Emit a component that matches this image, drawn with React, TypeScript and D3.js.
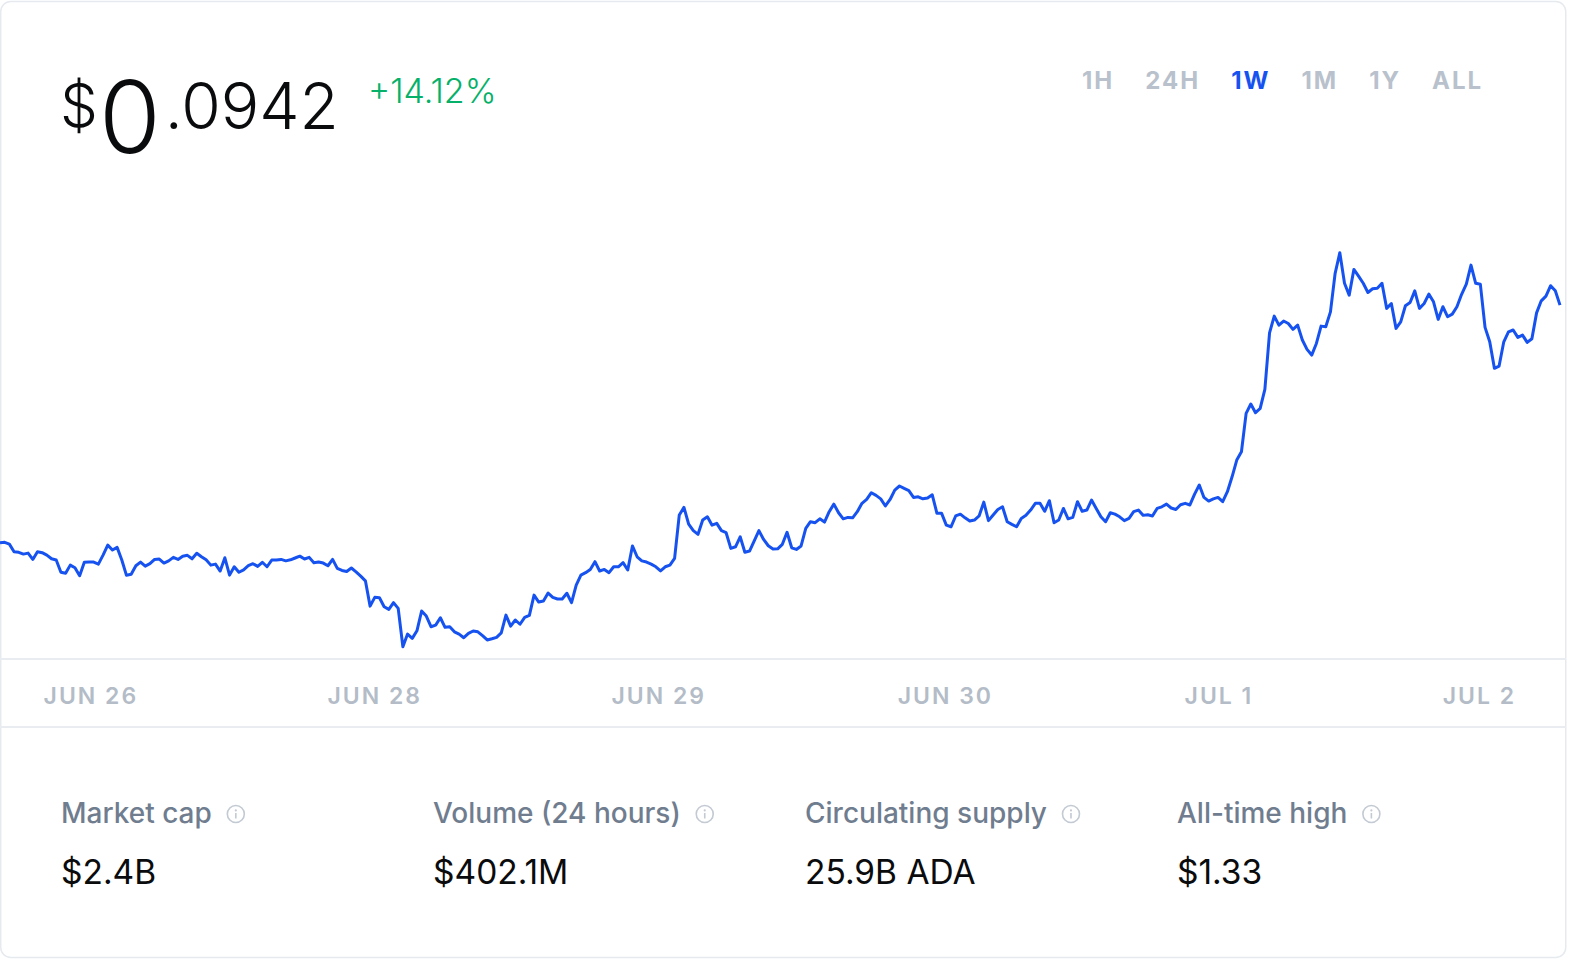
import * as React from "react";
import * as d3 from "d3";

// ADA price, one point every 30 minutes over the week (USD)
const prices = [
  0.08255, 0.08257, 0.08248, 0.08211, 0.08208, 0.08199, 0.08204, 0.08173, 0.08211, 0.08206,
  0.08194, 0.08176, 0.0817, 0.0811, 0.08105, 0.08145, 0.08132, 0.08093, 0.08159, 0.0816,
  0.0816, 0.0815, 0.08194, 0.08243, 0.08219, 0.08232, 0.0817, 0.08095, 0.081, 0.08142,
  0.0816, 0.0814, 0.08152, 0.08173, 0.08175, 0.08155, 0.08166, 0.08183, 0.08173, 0.08189,
  0.08193, 0.08176, 0.08203, 0.08186, 0.08171, 0.08145, 0.0815, 0.08116, 0.08181, 0.08096,
  0.08137, 0.0811, 0.08122, 0.08142, 0.08152, 0.08139, 0.08159, 0.08137, 0.0817, 0.0817,
  0.08173, 0.08166, 0.08171, 0.0818, 0.08189, 0.08175, 0.08183, 0.08157, 0.0816, 0.08155,
  0.08142, 0.08173, 0.08129, 0.08119, 0.08114, 0.08131, 0.08112, 0.08091, 0.08068, 0.07944,
  0.07987, 0.07985, 0.07941, 0.07928, 0.07961, 0.07933, 0.07745, 0.07807, 0.07786, 0.07823,
  0.0792, 0.07895, 0.07843, 0.07851, 0.07887, 0.0784, 0.07843, 0.07818, 0.07807, 0.07789,
  0.0781, 0.07822, 0.07818, 0.07799, 0.07778, 0.07784, 0.07791, 0.07813, 0.079, 0.07846,
  0.07876, 0.07855, 0.07889, 0.07899, 0.07998, 0.07964, 0.07969, 0.08008, 0.07987, 0.07979,
  0.07979, 0.08007, 0.07961, 0.08047, 0.08096, 0.08108, 0.08124, 0.08162, 0.08116, 0.08124,
  0.08108, 0.08137, 0.08137, 0.08157, 0.08121, 0.08239, 0.08186, 0.08166, 0.0816, 0.0815,
  0.08137, 0.08117, 0.08137, 0.08145, 0.08178, 0.08391, 0.08428, 0.08346, 0.08314, 0.08296,
  0.08366, 0.08382, 0.08341, 0.0835, 0.08314, 0.08304, 0.08227, 0.08235, 0.08284, 0.08208,
  0.08214, 0.08264, 0.08314, 0.08271, 0.0824, 0.08224, 0.08225, 0.08247, 0.08306, 0.0823,
  0.08222, 0.08239, 0.08325, 0.08358, 0.08353, 0.08372, 0.08356, 0.08407, 0.08444, 0.08402,
  0.08372, 0.08379, 0.08377, 0.08407, 0.08448, 0.08467, 0.085, 0.08487, 0.0847, 0.08435,
  0.08467, 0.08513, 0.08533, 0.08521, 0.0851, 0.08477, 0.0848, 0.0847, 0.08474, 0.0849,
  0.08399, 0.08399, 0.08341, 0.08333, 0.08386, 0.08395, 0.08377, 0.08361, 0.08366, 0.08386,
  0.08454, 0.08363, 0.08391, 0.08418, 0.08431, 0.08358, 0.08345, 0.08333, 0.08374, 0.08389,
  0.08415, 0.08448, 0.08448, 0.08409, 0.08461, 0.08353, 0.08366, 0.08423, 0.08372, 0.08379,
  0.08456, 0.08409, 0.08415, 0.08464, 0.08423, 0.08382, 0.08358, 0.08402, 0.08395, 0.08382,
  0.08363, 0.08374, 0.08407, 0.08415, 0.08389, 0.08392, 0.08386, 0.08423, 0.08431, 0.08444,
  0.08425, 0.08418, 0.08441, 0.08448, 0.0844, 0.08493, 0.08538, 0.08477, 0.08459, 0.0847,
  0.08477, 0.08456, 0.08505, 0.08578, 0.0866, 0.08701, 0.08889, 0.08935, 0.08892, 0.08914,
  0.09007, 0.09284, 0.09366, 0.09322, 0.09342, 0.0933, 0.09301, 0.09322, 0.09249, 0.09203,
  0.09175, 0.09232, 0.09317, 0.09314, 0.09387, 0.09576, 0.09677, 0.09527, 0.09469, 0.09595,
  0.09562, 0.09527, 0.09482, 0.095, 0.09503, 0.09527, 0.09404, 0.09428, 0.09306, 0.09338,
  0.09417, 0.09433, 0.0949, 0.09404, 0.09428, 0.09474, 0.09436, 0.0935, 0.09412, 0.09363,
  0.09376, 0.09412, 0.09473, 0.09523, 0.09616, 0.09527, 0.09522, 0.09311, 0.0924, 0.0911,
  0.09121, 0.0924, 0.09289, 0.09298, 0.09262, 0.09273, 0.09237, 0.09255, 0.09382, 0.09441,
  0.09464, 0.09515, 0.0949, 0.0942,
];
const stepHours = 0.5;

const dateLabels = ["JUN 26", "JUN 28", "JUN 29", "JUN 30", "JUL 1", "JUL 2"];
const dateLabelHours = [9.7, 40.0, 70.3, 100.9, 130.1, 157.9];

const ranges = ["1H", "24H", "1W", "1M", "1Y", "ALL"];
const activeRange = "1W";

const priceWhole = "0";
const priceFraction = ".0942";
const priceChange = "+14.12%";

const statLabels = ["Market cap", "Volume (24 hours)", "Circulating supply", "All-time high"];
const statValues = ["$2.4B", "$402.1M", "25.9B ADA", "$1.33"];

const W = 1578;
const H = 960;
const FONT = "Inter, 'Noto Sans', sans-serif";
const BLUE = "#1652f0";

const App = () => {
  const ref = React.useRef(null);

  React.useEffect(() => {
    const svg = d3.select(ref.current);
    svg.selectAll("*").remove();

    // card
    svg
      .append("rect")
      .attr("x", 0.75)
      .attr("y", 1.5)
      .attr("width", 1565)
      .attr("height", 956)
      .attr("rx", 10)
      .attr("fill", "#fff")
      .attr("stroke", "#e6eaef")
      .attr("stroke-width", 1.5);

    // line
    const data = prices.map((p, i) => ({ t: i * stepHours, p }));
    const x = d3
      .scaleLinear()
      .domain([0, (prices.length - 1) * stepHours])
      .range([0, 1560]);
    const y = d3
      .scaleLinear()
      .domain(d3.extent(prices) as [number, number])
      .range([646.7, 252.7]);
    const line = d3
      .line<{ t: number; p: number }>()
      .x(d => x(d.t))
      .y(d => y(d.p));

    svg
      .append("path")
      .datum(data)
      .attr("d", line)
      .attr("fill", "none")
      .attr("stroke", BLUE)
      .attr("stroke-width", 3)
      .attr("stroke-linejoin", "round");

    // axis band
    [659, 727].forEach(ly =>
      svg
        .append("line")
        .attr("x1", 0)
        .attr("x2", 1566)
        .attr("y1", ly)
        .attr("y2", ly)
        .attr("stroke", "#e9edf1")
        .attr("stroke-width", 2)
    );

    svg
      .append("g")
      .selectAll("text")
      .data(dateLabels)
      .join("text")
      .attr("x", (d, i) => x(dateLabelHours[i]))
      .attr("y", 704)
      .attr("text-anchor", "middle")
      .attr("font-family", FONT)
      .attr("font-size", 23)
      .attr("font-weight", 600)
      .attr("letter-spacing", 2)
      .attr("fill", "#b3bcc7")
      .text(d => d);

    // price header
    const price = svg
      .append("text")
      .attr("x", 60)
      .attr("y", 129)
      .attr("font-family", FONT)
      .attr("font-weight", 300)
      .attr("fill", "#0a0b0d");
    price.append("tspan").attr("font-size", 60).attr("dy", -2).text("$");
    price.append("tspan").attr("font-size", 100).attr("dx", 1).attr("dy", 26).text(priceWhole);
    price.append("tspan").attr("font-size", 64).attr("dx", 4).attr("dy", -24).text(priceFraction);

    svg
      .append("text")
      .attr("x", 368)
      .attr("y", 103)
      .attr("font-family", FONT)
      .attr("font-size", 34)
      .attr("font-weight", 300)
      .attr("fill", "#05b169")
      .text(priceChange);

    // range selector
    const rangeText = svg
      .append("g")
      .selectAll("text")
      .data(ranges)
      .join("text")
      .attr("y", 88.5)
      .attr("font-family", FONT)
      .attr("font-size", 24)
      .attr("font-weight", 700)
      .attr("letter-spacing", 2)
      .attr("fill", d => (d === activeRange ? BLUE : "#b8c1cc"))
      .text(d => d);
    let cursor = 1082;
    rangeText.each(function () {
      const node = this as SVGTextElement;
      node.setAttribute("x", String(cursor));
      cursor += node.getComputedTextLength() + 31;
    });

    // stats
    const stats = svg
      .append("g")
      .selectAll("g")
      .data(statLabels)
      .join("g")
      .attr("transform", (d, i) => `translate(${61 + i * 372},0)`);

    stats
      .append("text")
      .attr("class", "label")
      .attr("y", 823)
      .attr("font-family", FONT)
      .attr("font-size", 28)
      .attr("font-weight", 500)
      .attr("fill", "#6f7d8f")
      .text(d => d);

    stats
      .append("text")
      .attr("y", 884)
      .attr("font-family", FONT)
      .attr("font-size", 33.5)
      .attr("font-weight", 400)
      .attr("fill", "#0a0b0d")
      .text((d, i) => statValues[i]);

    stats.each(function () {
      const g = d3.select(this);
      const label = g.select("text.label").node() as SVGTextElement;
      const cx = label.getComputedTextLength() + 24;
      const cy = 814;
      g.append("circle")
        .attr("cx", cx)
        .attr("cy", cy)
        .attr("r", 8.5)
        .attr("fill", "none")
        .attr("stroke", "#c3cad3")
        .attr("stroke-width", 1.6);
      g.append("circle").attr("cx", cx).attr("cy", cy - 3.6).attr("r", 1.1).attr("fill", "#c3cad3");
      g.append("line")
        .attr("x1", cx)
        .attr("x2", cx)
        .attr("y1", cy - 1)
        .attr("y2", cy + 4.5)
        .attr("stroke", "#c3cad3")
        .attr("stroke-width", 1.6);
    });
  }, []);

  return (
    <svg
      ref={ref}
      width={W}
      height={H}
      style={{ position: "absolute", left: 0, top: 0, background: "#fff" }}
    />
  );
};

export default App;
